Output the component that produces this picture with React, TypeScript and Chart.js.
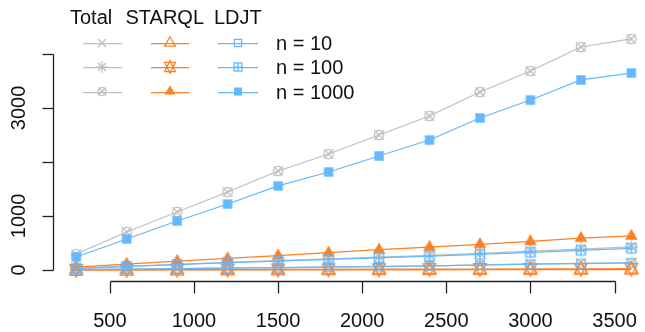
import React, { useEffect, useRef } from 'react';
import { Chart, registerables } from 'chart.js';
Chart.register(...registerables);

// ---- data ----
const xValues = [300, 600, 900, 1200, 1500, 1800, 2100, 2400, 2700, 3000, 3300, 3600];
const totalN10 = [9, 18, 27, 37, 46, 56, 66, 78, 93, 112, 124, 137];
const totalN100 = [32, 69, 106, 143, 175, 207, 239, 271, 308, 347, 386, 426];
const totalN1000 = [296, 704, 1074, 1444, 1833, 2148, 2500, 2852, 3296, 3685, 4130, 4278];
const starqlN10 = [1, 1, 2, 2, 3, 3, 4, 4, 5, 5, 6, 7];
const starqlN100 = [2, 4, 6, 8, 10, 12, 14, 16, 18, 20, 22, 25];
const starqlN1000 = [55, 110, 165, 215, 265, 320, 375, 425, 475, 530, 590, 630];
const ldjtN10 = [8, 17, 25, 35, 43, 53, 62, 74, 88, 107, 118, 130];
const ldjtN100 = [30, 65, 100, 135, 165, 195, 225, 255, 290, 327, 364, 401];
const ldjtN1000 = [241, 574, 907, 1222, 1556, 1815, 2111, 2407, 2815, 3148, 3519, 3648];

const xTicks = [500, 1000, 1500, 2000, 2500, 3000, 3500];
const xTickLabels = ['500', '1000', '1500', '2000', '2500', '3000', '3500'];
const yTicks = [0, 1000, 2000, 3000, 4000];
const yTickLabels = ['0', '1000', '', '3000', ''];
const legendGroups = ['Total', 'STARQL', 'LDJT'];
const legendSizes = ['n = 10', 'n = 100', 'n = 1000'];

const GRAY = '#BEBEBE';
const ORANGE = '#FF7F24';
const BLUE = '#63B8FF';
const FONT = '20px "Liberation Sans", Arial, sans-serif';
const TEXT = '#111111';
const LW = 1.25;

type Kind = 'pch0' | 'pch2' | 'pch4' | 'pch8' | 'pch11' | 'pch12' | 'pch13' | 'pch15' | 'pch17';

function shape(ctx: CanvasRenderingContext2D, kind: Kind, R: number, color: string) {
  ctx.strokeStyle = color;
  ctx.fillStyle = color;
  ctx.lineWidth = LW;
  const r = 1.555 * R, xc = 1.347 * R, yc = 0.778 * R;
  const line = (a: number, b: number, c: number, d: number) => {
    ctx.beginPath(); ctx.moveTo(a, b); ctx.lineTo(c, d); ctx.stroke();
  };
  const tri = (pts: number[][], fill: boolean) => {
    ctx.beginPath();
    ctx.moveTo(pts[0][0], pts[0][1]);
    ctx.lineTo(pts[1][0], pts[1][1]);
    ctx.lineTo(pts[2][0], pts[2][1]);
    ctx.closePath();
    if (fill) ctx.fill(); else ctx.stroke();
  };
  switch (kind) {
    case 'pch0': { const h = 0.886 * R; ctx.strokeRect(-h, -h, 2 * h, 2 * h); break; }
    case 'pch2': tri([[0, -r], [xc, yc], [-xc, yc]], false); break;
    case 'pch17': tri([[0, -r], [xc, yc], [-xc, yc]], true); break;
    case 'pch4': line(-R, -R, R, R); line(-R, R, R, -R); break;
    case 'pch8': {
      line(-R, -R, R, R); line(-R, R, R, -R);
      const p = 1.414 * R; line(-p, 0, p, 0); line(0, -p, 0, p); break;
    }
    case 'pch11': {
      const y2 = 0.5 * (yc + r);
      tri([[0, -r], [xc, y2], [-xc, y2]], false);
      tri([[0, r], [xc, -y2], [-xc, -y2]], false);
      break;
    }
    case 'pch12': ctx.strokeRect(-R, -R, 2 * R, 2 * R); line(-R, 0, R, 0); line(0, -R, 0, R); break;
    case 'pch13': ctx.beginPath(); ctx.arc(0, 0, R, 0, Math.PI * 2); ctx.stroke(); line(-R, -R, R, R); line(-R, R, R, -R); break;
    case 'pch15': ctx.fillRect(-R, -R, 2 * R, 2 * R); break;
  }
}

function makeMarker(kind: Kind, color: string, R: number): HTMLCanvasElement {
  const S = Math.ceil(3.4 * R) + 4;
  const c = document.createElement('canvas');
  c.width = S; c.height = S;
  const ctx = c.getContext('2d')!;
  ctx.translate(S / 2, S / 2);
  shape(ctx, kind, R, color);
  return c;
}

const PR = 4.7; // plot marker radius
const LR = 4.0; // legend marker radius

const legendRows: { kind: Kind; color: string }[][] = [
  [{ kind: 'pch4', color: GRAY }, { kind: 'pch2', color: ORANGE }, { kind: 'pch0', color: BLUE }],
  [{ kind: 'pch8', color: GRAY }, { kind: 'pch11', color: ORANGE }, { kind: 'pch12', color: BLUE }],
  [{ kind: 'pch13', color: GRAY }, { kind: 'pch17', color: ORANGE }, { kind: 'pch15', color: BLUE }],
];

const rPlugin = {
  id: 'rStyle',
  afterDraw(chart: any) {
    const { ctx, chartArea } = chart;
    const xs = chart.scales.x, ys = chart.scales.y;
    ctx.save();
    ctx.strokeStyle = '#222';
    ctx.lineWidth = 1.3;
    // y axis
    const ax = Math.round(chartArea.left) - 0.5;
    const y0 = ys.getPixelForValue(yTicks[0]);
    const y1 = ys.getPixelForValue(yTicks[yTicks.length - 1]);
    ctx.beginPath(); ctx.moveTo(ax, Math.round(y0) + 0.5); ctx.lineTo(ax, Math.round(y1) + 0.5); ctx.stroke();
    yTicks.forEach((t) => {
      const py = Math.round(ys.getPixelForValue(t)) + 0.5;
      ctx.beginPath(); ctx.moveTo(ax - 11, py); ctx.lineTo(ax, py); ctx.stroke();
    });
    // x axis
    const ay = Math.round(chartArea.bottom) + 0.5;
    const x0 = xs.getPixelForValue(xTicks[0]);
    const x1 = xs.getPixelForValue(xTicks[xTicks.length - 1]);
    ctx.beginPath(); ctx.moveTo(Math.round(x0) + 0.5, ay); ctx.lineTo(Math.round(x1) + 0.5, ay); ctx.stroke();
    xTicks.forEach((t) => {
      const px = Math.round(xs.getPixelForValue(t)) + 0.5;
      ctx.beginPath(); ctx.moveTo(px, ay); ctx.lineTo(px, ay + 12); ctx.stroke();
    });
    // labels
    ctx.fillStyle = TEXT;
    ctx.font = FONT;
    ctx.textAlign = 'center';
    ctx.textBaseline = 'alphabetic';
    xTicks.forEach((t, i) => {
      ctx.fillText(xTickLabels[i], xs.getPixelForValue(t), 327);
    });
    yTicks.forEach((t, i) => {
      if (!yTickLabels[i]) return;
      ctx.save();
      ctx.translate(25, ys.getPixelForValue(t));
      ctx.rotate(-Math.PI / 2);
      ctx.fillText(yTickLabels[i], 0, 0);
      ctx.restore();
    });
    // legend
    ctx.textAlign = 'left';
    const headX = [70, 125.5, 214];
    legendGroups.forEach((g, i) => ctx.fillText(g, headX[i], 24));
    const rowY = [43, 67, 91.5];
    const segs = [[83, 122, 102], [151, 189, 170], [218, 258, 238]];
    const cols = [GRAY, ORANGE, BLUE];
    rowY.forEach((ry, ri) => {
      segs.forEach((s, ci) => {
        ctx.strokeStyle = cols[ci];
        ctx.lineWidth = LW;
        const yy = Math.round(ry) + 0.5;
        ctx.beginPath(); ctx.moveTo(s[0], yy); ctx.lineTo(s[1], yy); ctx.stroke();
        ctx.save();
        ctx.translate(s[2], ry);
        shape(ctx, legendRows[ri][ci].kind, LR, legendRows[ri][ci].color);
        ctx.restore();
      });
      ctx.fillStyle = TEXT;
      ctx.fillText(legendSizes[ri], 276, ry + 7);
    });
    ctx.restore();
  },
};

export default function App() {
  const ref = useRef<HTMLCanvasElement>(null);
  useEffect(() => {
    document.body.style.margin = '0';
    const ds = (data: number[], color: string, kind: Kind, order: number) => ({
      data: xValues.map((x, i) => ({ x, y: data[i] })),
      borderColor: color,
      backgroundColor: color,
      borderWidth: LW,
      pointStyle: makeMarker(kind, color, PR),
      pointRadius: 5,
      pointHoverRadius: 5,
      tension: 0,
      clip: false as any,
      order,
    });
    const chart = new Chart(ref.current!, {
      type: 'line',
      data: {
        datasets: [
          ds(ldjtN1000, BLUE, 'pch15', 0),
          ds(ldjtN100, BLUE, 'pch12', 1),
          ds(ldjtN10, BLUE, 'pch0', 2),
          ds(starqlN1000, ORANGE, 'pch17', 3),
          ds(starqlN100, ORANGE, 'pch11', 4),
          ds(starqlN10, ORANGE, 'pch2', 5),
          ds(totalN1000, GRAY, 'pch13', 6),
          ds(totalN100, GRAY, 'pch8', 7),
          ds(totalN10, GRAY, 'pch4', 8),
        ] as any,
      },
      options: {
        animation: false,
        responsive: false,
        devicePixelRatio: 1,
        layout: { padding: { left: 54, top: 29, right: 0, bottom: 51 } },
        plugins: { legend: { display: false }, tooltip: { enabled: false } },
        events: [],
        scales: {
          x: { type: 'linear', min: 168, max: 3644, display: false },
          y: { type: 'linear', min: -204, max: 4463, display: false },
        },
      },
      plugins: [rPlugin],
    });
    return () => chart.destroy();
  }, []);
  return (
    <div style={{ position: 'fixed', left: 0, top: 0, width: 645, height: 332, background: '#fff' }}>
      <canvas ref={ref} width={645} height={332} style={{ display: 'block', width: 645, height: 332 }} />
    </div>
  );
}
